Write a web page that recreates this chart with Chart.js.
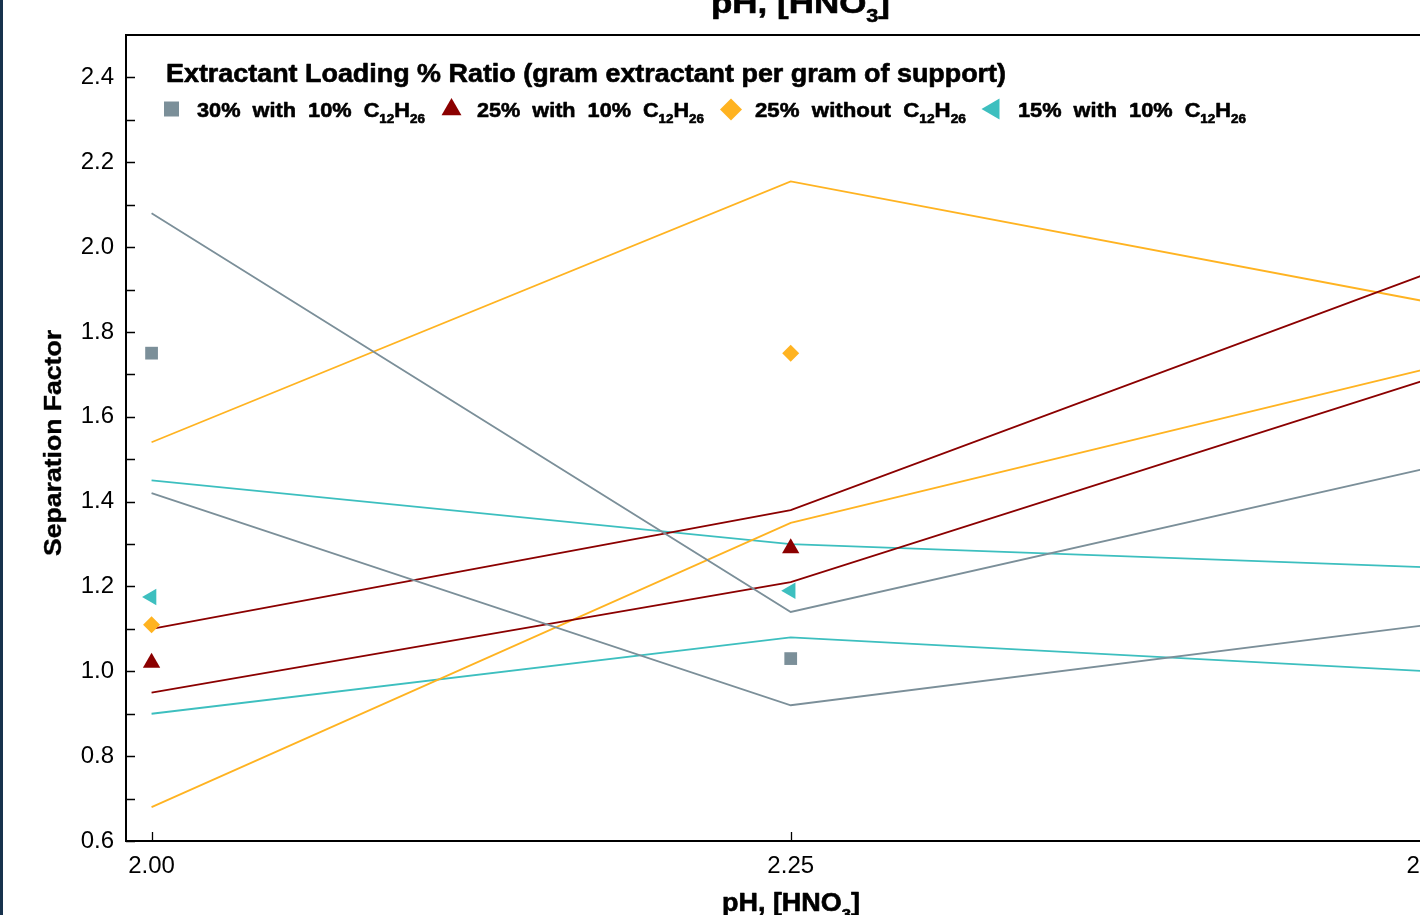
<!DOCTYPE html>
<html>
<head>
<meta charset="utf-8">
<script src="https://cdn.jsdelivr.net/npm/chart.js@4.4.1/dist/chart.umd.min.js"></script>
<style>
  html, body { margin: 0; padding: 0; background: #fff; overflow: hidden; }
  #wrap { position: relative; width: 1420px; height: 915px; overflow: hidden; }
  #chart { position: absolute; left: 0; top: 0; }
  #edge { position: absolute; left: 0; top: 0; width: 3px; height: 915px; background: #17324d; }
</style>
</head>
<body>
<div id="wrap">
  <canvas id="chart" width="1500" height="915"></canvas>
  <div id="edge"></div>
</div>
<script>
// pH values (x) and axis ticks
const phValues = [2.00, 2.25, 2.50];
const xTicks = [2.00, 2.25, 2.50];
const yTicks = [0.6, 0.8, 1.0, 1.2, 1.4, 1.6, 1.8, 2.0, 2.2, 2.4];
const yMinorTicks = [0.7, 0.9, 1.1, 1.3, 1.5, 1.7, 1.9, 2.1, 2.3];

// measured separation factors (markers at 2.00 and 2.25)
const sf30 = [1.75, 1.03];
const sf25 = [1.02, 1.29];
const sf25no = [1.11, 1.75];
const sf15 = [1.175, 1.19];

// upper / lower bound lines
const sf30Upper = [2.08, 1.14, 1.48];
const sf30Lower = [1.42, 0.92, 1.11];
const sf25Upper = [1.10, 1.38, 1.94];
const sf25Lower = [0.95, 1.21, 1.69];
const sf25noUpper = [1.54, 2.155, 1.87];
const sf25noLower = [0.68, 1.35, 1.715];
const sf15Upper = [1.45, 1.30, 1.245];
const sf15Lower = [0.90, 1.08, 1.00];

const seriesLabels = [
  '30%  with  10%  C_12H_26',
  '25%  with  10%  C_12H_26',
  '25%  without  C_12H_26',
  '15%  with  10%  C_12H_26'
];
const legendTitle = 'Extractant Loading % Ratio (gram extractant per gram of support)';
const xTitle = 'pH, [HNO_3]';
const yTitle = 'Separation Factor';

const colors = ['#7b8f99', '#8b0000', '#ffb321', '#3dbfbf'];
const FONT = '"Liberation Sans", Arial, sans-serif';

function pts(vals) {
  return vals.map((v, i) => ({ x: phValues[i], y: v }));
}

function markerSet(vals, i, style, radius, rotation) {
  return {
    label: seriesLabels[i], data: pts(vals), showLine: false, order: 0,
    pointStyle: style, pointRadius: radius, pointRotation: rotation || 0,
    pointBackgroundColor: colors[i], pointBorderWidth: 0, pointHoverRadius: radius
  };
}
function lineSet(vals, i) {
  return {
    label: '', data: pts(vals), showLine: true, order: 1,
    borderColor: colors[i], borderWidth: 1.8, pointRadius: 0, pointHoverRadius: 0, fill: false
  };
}

// split "C_12H_26" into normal/subscript pieces
function rich(str) {
  const segs = [];
  str.split(/(_\d+)/).forEach(p => {
    if (!p) return;
    if (p[0] === '_') segs.push({ t: p.slice(1), sub: true });
    else segs.push({ t: p, sub: false });
  });
  return segs;
}

function drawRich(ctx, str, x, y, size, width, heavy) {
  const parts = rich(str).map(s => {
    const sz = s.sub ? size * 0.62 : size;
    ctx.font = 'bold ' + sz + 'px ' + FONT;
    return { t: s.t, sz: sz, w: ctx.measureText(s.t).width, dy: s.sub ? size * 0.3 : 0 };
  });
  const total = parts.reduce((a, p) => a + p.w, 0);
  const k = width ? width / total : 1;
  ctx.save();
  ctx.translate(x, y);
  ctx.scale(k, 1);
  ctx.fillStyle = '#000';
  ctx.strokeStyle = '#000';
  ctx.lineWidth = heavy || 0;
  ctx.lineJoin = 'round';
  ctx.textBaseline = 'alphabetic';
  ctx.textAlign = 'left';
  let cx = 0;
  parts.forEach(p => {
    ctx.font = 'bold ' + p.sz + 'px ' + FONT;
    ctx.fillText(p.t, cx, p.dy);
    if (heavy) ctx.strokeText(p.t, cx, p.dy);
    cx += p.w;
  });
  ctx.restore();
}

function drawMarker(ctx, ds, x, y, radius) {
  ctx.save();
  ctx.fillStyle = ds.pointBackgroundColor;
  Chart.helpers.drawPoint(ctx, {
    pointStyle: ds.pointStyle, radius: radius,
    rotation: ds.pointRotation, borderWidth: 0
  }, x, y);
  ctx.restore();
}

const framePlugin = {
  id: 'frame',
  afterDraw(chart) {
    const ctx = chart.ctx;
    const a = chart.chartArea;
    const xs = chart.scales.x, ys = chart.scales.y;
    ctx.save();
    ctx.strokeStyle = '#000';
    // top border
    ctx.lineWidth = 2;
    ctx.beginPath();
    ctx.moveTo(a.left, a.top);
    ctx.lineTo(a.right, a.top);
    ctx.stroke();
    // inside ticks
    ctx.lineWidth = 1.3;
    ctx.beginPath();
    yTicks.concat(yMinorTicks).forEach(v => {
      const py = Math.round(ys.getPixelForValue(v)) + 0.5;
      ctx.moveTo(a.left, py);
      ctx.lineTo(a.left + 9, py);
    });
    xTicks.forEach(v => {
      const px = Math.round(xs.getPixelForValue(v)) + 0.5;
      ctx.moveTo(px, a.bottom);
      ctx.lineTo(px, a.bottom - 9);
    });
    ctx.stroke();
    ctx.restore();

    // titles
    drawRich(ctx, xTitle, 711, 13, 30, 179, 0.6);
    drawRich(ctx, xTitle, 722, 911, 25, 138, 0.6);
    ctx.save();
    ctx.translate(61, 556);
    ctx.rotate(-Math.PI / 2);
    drawRich(ctx, yTitle, 0, 0, 24, 226, 0.4);
    ctx.restore();

    // legend
    drawRich(ctx, legendTitle, 166, 82, 25, 840, 0.6);
    const mx = [171.5, 451.5, 731, 993.5];
    const my = [109, 109.5, 109.5, 109];
    const mr = [10.6, 11.5, 11, 12];
    const tx = [197, 477, 755, 1018];
    const tw = [228, 227, 211, 228];
    [0, 1, 2, 3].forEach(i => {
      drawMarker(ctx, chart.data.datasets[i], mx[i], my[i], mr[i]);
      drawRich(ctx, seriesLabels[i], tx[i], 117, 21, tw[i], 0.6);
    });
  }
};

new Chart(document.getElementById('chart'), {
  type: 'scatter',
  data: {
    datasets: [
      markerSet(sf30, 0, 'rect', 9),
      markerSet(sf25, 1, 'triangle', 10),
      markerSet(sf25no, 2, 'rectRot', 8.5),
      markerSet(sf15, 3, 'triangle', 9.5, -90),
      lineSet(sf30Upper, 0), lineSet(sf30Lower, 0),
      lineSet(sf25Upper, 1), lineSet(sf25Lower, 1),
      lineSet(sf25noUpper, 2), lineSet(sf25noLower, 2),
      lineSet(sf15Upper, 3), lineSet(sf15Lower, 3)
    ]
  },
  options: {
    responsive: false,
    animation: false,
    devicePixelRatio: 1,
    layout: { padding: { left: 0, top: 35, right: 19, bottom: 0 } },
    plugins: { legend: { display: false }, tooltip: { enabled: false } },
    scales: {
      x: {
        type: 'linear', min: 1.99, max: 2.52,
        afterBuildTicks: s => { s.ticks = xTicks.map(v => ({ value: v })); },
        afterFit: s => { s.height = 74; },
        grid: { display: false },
        border: { display: true, color: '#000', width: 2 },
        ticks: {
          color: '#000', padding: 3, maxRotation: 0, autoSkip: false,
          font: { family: FONT, size: 24 },
          callback: v => v.toFixed(2)
        }
      },
      y: {
        type: 'linear', min: 0.6, max: 2.5,
        afterBuildTicks: s => { s.ticks = yTicks.map(v => ({ value: v })); },
        afterFit: s => { s.width = 126; },
        grid: { display: false },
        border: { display: true, color: '#000', width: 2 },
        ticks: {
          color: '#000', padding: 4,
          font: { family: FONT, size: 24 },
          callback: v => v.toFixed(1)
        }
      }
    }
  },
  plugins: [framePlugin]
});
</script>
</body>
</html>
